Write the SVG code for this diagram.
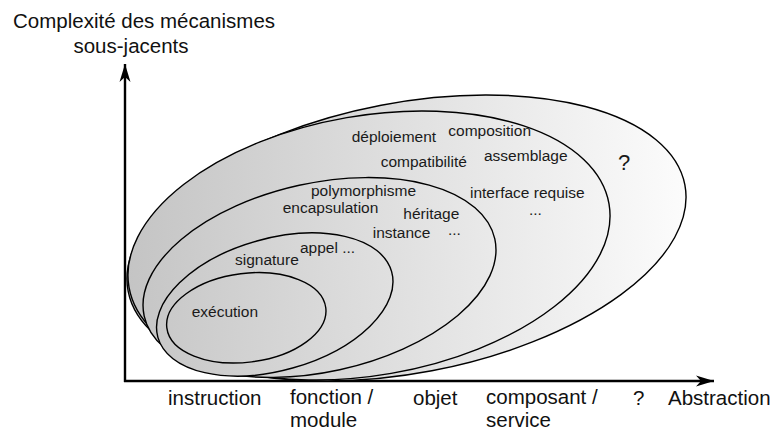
<svg xmlns="http://www.w3.org/2000/svg" width="784" height="433" viewBox="0 0 784 433">
<defs>
<linearGradient id="g" gradientUnits="userSpaceOnUse" x1="130" y1="200" x2="690" y2="300">
<stop offset="0" stop-color="#c4c4c4"/>
<stop offset="1" stop-color="#fdfdfd"/>
</linearGradient>
<marker id="arr" markerUnits="userSpaceOnUse" markerWidth="20" markerHeight="12" viewBox="-18 -6 20 12" refX="0" refY="0" orient="auto">
<path d="M0,0 L-18,-5.5 L-13,0 L-18,5.5 Z" fill="#000"/>
</marker>
<style>
.e{fill:url(#g);stroke:#000;stroke-width:1.4}
.t{font-family:"Liberation Sans",Arial,sans-serif;font-size:15.5px;fill:#1a1a1a}
.a{font-family:"Liberation Sans",Arial,sans-serif;font-size:20.5px;fill:#111}
.ax{stroke:#000;stroke-width:2.4;fill:none}
</style>
</defs>
<rect width="784" height="433" fill="#fff"/>
<g id="connectors">
<path class="ax" d="M125,382 L125,64" marker-end="url(#arr)"/>
<path class="ax" d="M124,381 L714,381" marker-end="url(#arr)"/>
</g>
<g id="n-unknown">
<ellipse class="e" cx="406.5" cy="238" rx="283.4" ry="135.2" transform="rotate(-10.8 406.5 238)"/>
<text class="t" x="618" y="170" style="font-size:22px">?</text>
</g>
<g id="n-composant">
<ellipse class="e" cx="369" cy="245.5" rx="243.6" ry="129.8" transform="rotate(-9.84 369 245.5)"/>
<text class="t" x="351.7" y="141.7">déploiement</text>
<text class="t" x="448.3" y="136">composition</text>
<text class="t" x="380.7" y="167.3">compatibilité</text>
<text class="t" x="484" y="160.7">assemblage</text>
<text class="t" x="470" y="198.3">interface requise</text>
<text class="t" x="529" y="215">...</text>
</g>
<g id="n-objet">
<ellipse class="e" cx="319.5" cy="277.5" rx="179.5" ry="94.4" transform="rotate(-12.4 319.5 277.5)"/>
<text class="t" x="311" y="196">polymorphisme</text>
<text class="t" x="282.7" y="213.3">encapsulation</text>
<text class="t" x="403.3" y="219.3">héritage</text>
<text class="t" x="372.7" y="238.3">instance</text>
<text class="t" x="448" y="235">...</text>
</g>
<g id="n-fonction">
<ellipse class="e" cx="274.75" cy="304.5" rx="121.4" ry="66" transform="rotate(-15.7 274.75 304.5)"/>
<text class="t" x="300" y="253.3">appel ...</text>
<text class="t" x="235" y="265">signature</text>
</g>
<g id="n-instruction">
<ellipse class="e" cx="246.3" cy="317.8" rx="80.1" ry="44.4" transform="rotate(-7.2 246.3 317.8)"/>
<text class="t" x="191.7" y="317.3">exécution</text>
</g>
<g id="labels">
<text class="a" x="13" y="28">Complexité des mécanismes</text>
<text class="a" x="131" y="53" text-anchor="middle">sous-jacents</text>
<text class="a" x="168" y="405">instruction</text>
<text class="a" x="290" y="404">fonction /</text>
<text class="a" x="290" y="427">module</text>
<text class="a" x="413" y="405">objet</text>
<text class="a" x="486" y="404">composant /</text>
<text class="a" x="486" y="427">service</text>
<text class="a" x="633" y="405">?</text>
<text class="a" x="668" y="405">Abstraction</text>
</g>
</svg>
